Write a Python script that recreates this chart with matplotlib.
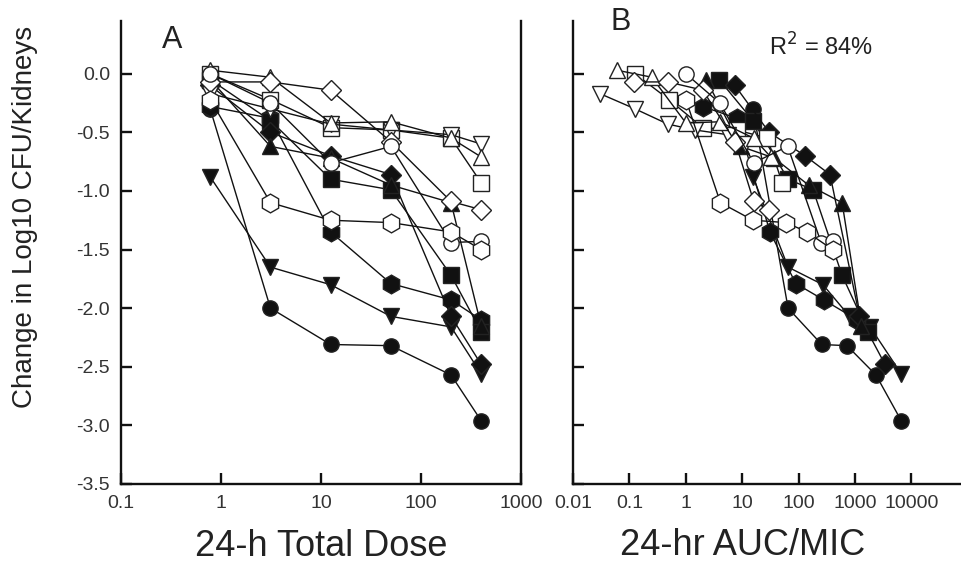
import numpy as np
import matplotlib.pyplot as plt

plt.rcParams['font.family'] = ['Liberation Sans', 'DejaVu Sans']

# doses (panel A x values), same for every series
dose = [0.78, 3.125, 12.5, 50, 200, 400]

# marker and fill for each series
markers = ['o', 'v', 'h', 's', 'D', '^', 's', 'v', '^', 'D', 'o', 'h']
filled = [True, True, True, True, True, True, False, False, False, False, False, False]

# change in log10 CFU/kidneys, one list per series
cfu = [
    [-0.30, -2.00, -2.31, -2.32, -2.57, -2.96],
    [-0.88, -1.65, -1.80, -2.07, -2.16, -2.56],
    [-0.28, -0.38, -1.35, -1.79, -1.93, -2.10],
    [-0.05, -0.40, -0.90, -0.99, -1.72, -2.20],
    [-0.10, -0.50, -0.70, -0.86, -2.07, -2.48],
    [-0.05, -0.62, -0.72, -0.95, -1.10, -2.15],
    [0.00, -0.22, -0.46, -0.48, -0.55, -0.93],
    [-0.17, -0.30, -0.43, -0.48, -0.52, -0.60],
    [0.03, -0.03, -0.42, -0.41, -0.55, -0.71],
    [-0.07, -0.07, -0.14, -0.58, -1.09, -1.16],
    [0.00, -0.25, -0.76, -0.62, -1.44, -1.43],
    [-0.22, -1.10, -1.25, -1.27, -1.35, -1.50],
]

# 24-hr AUC/MIC (panel B x values), one list per series
auc_mic = [
    [15.5, 65, 257, 720, 2350, 6600],
    [15.5, 65, 270, 800, 1850, 6600],
    [2.0, 8, 31, 89, 280, 1100],
    [3.9, 15.5, 65, 180, 590, 1700],
    [7.4, 30, 130, 360, 1200, 3400],
    [2.3, 9.4, 37, 150, 590, 1300],
    [0.126, 0.5, 2.0, 8, 28, 51],
    [0.03, 0.126, 0.48, 1.45, 5.5, 11],
    [0.06, 0.25, 1.0, 4, 16, 32],
    [0.12, 0.48, 2.0, 7.5, 16, 30],
    [1.0, 4, 16, 64, 250, 400],
    [1.0, 4.1, 15.5, 60, 140, 400],
]

yticks = [0.0, -0.5, -1.0, -1.5, -2.0, -2.5, -3.0, -3.5]
xticks_a = [0.1, 1, 10, 100, 1000]
xticks_b = [0.01, 0.1, 1, 10, 100, 1000, 10000]

fig = plt.figure(figsize=(9.61, 5.70), dpi=100)
axA = fig.add_axes([0.1259, 0.1509, 0.4162, 0.8123])
axB = fig.add_axes([0.5963, 0.1509, 0.4108, 0.8123])

# hexagons draw smaller than the other markers at equal size
msize = {'h': 13.5, 'D': 10.5}


def draw(ax, xs_list):
    for xs, ys, m, f in zip(xs_list, cfu, markers, filled):
        ax.plot(xs, ys, '-', color='#111111', lw=1.0, marker=m,
                ms=msize.get(m, 11),
                mfc='#111111' if f else 'white', mec='#222222', mew=1.0)


draw(axA, [dose] * len(cfu))
draw(axB, auc_mic)

for ax in (axA, axB):
    ax.set_xscale('log')
    ax.set_ylim(-3.5, 0.45)
    ax.set_yticks(yticks)
    ax.spines['top'].set_visible(False)
    for s in ax.spines.values():
        s.set_linewidth(1.7)
        s.set_color('#111111')
    ax.tick_params(direction='in', length=8, width=1.7, labelsize=14, pad=8,
                   colors='#111111', labelcolor='#333333')
    ax.tick_params(which='minor', length=0)

axA.set_xlim(0.1, 1000)
axA.set_xticks(xticks_a)
axA.set_xticklabels(['0.1', '1', '10', '100', '1000'])
axA.set_yticklabels(['%.1f' % v for v in yticks])
axA.set_xlabel('24-h Total Dose', fontsize=26, labelpad=12, color='#222222')

axB.set_xlim(0.01, 100000)
axB.set_xticks(xticks_b)
axB.set_xticklabels(['0.01', '0.1', '1', '10', '100', '1000', '10000'])
axB.set_yticklabels([])
axB.spines['right'].set_visible(False)
axB.set_xlabel('24-hr AUC/MIC', fontsize=26, labelpad=12, color='#222222')
axB.xaxis.set_label_coords(0.43, -0.095)

fig.text(0.026, 0.62, 'Change in Log10 CFU/Kidneys', rotation=90,
         fontsize=20, ha='center', va='center', color='#222222')
fig.text(0.168, 0.93, 'A', fontsize=22, ha='left', va='center', color='#222222')
fig.text(0.635, 0.962, 'B', fontsize=22, ha='left', va='center', color='#222222')
fig.text(0.80, 0.918, 'R$^2$ = 84%', fontsize=17, ha='left', va='center',
         color='#222222')

fig.savefig('out.png', dpi=100)
